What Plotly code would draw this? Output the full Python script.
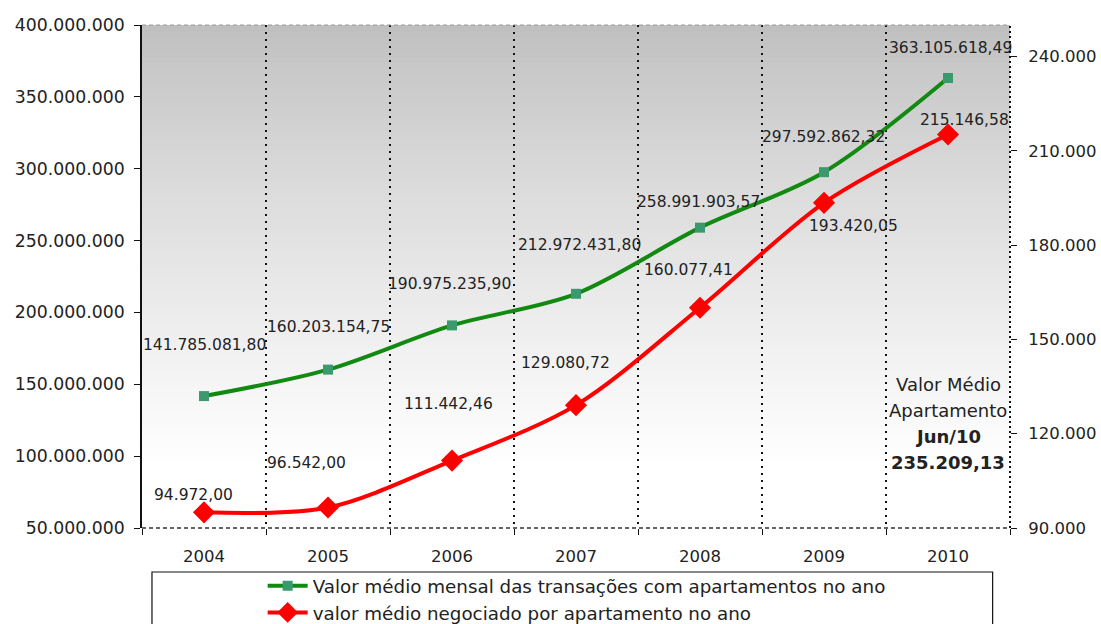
import plotly.graph_objects as go

# Years on the category axis
anos = ["2004", "2005", "2006", "2007", "2008", "2009", "2010"]

# Average monthly value of apartment transactions in the year (left axis)
valor_mensal = [141785081.80, 160203154.75, 190975235.90, 212972431.80,
                258991903.57, 297592862.32, 363105618.49]

# Average value traded per apartment in the year (right axis)
valor_apto = [94972.00, 96542.00, 111442.46, 129080.72,
              160077.41, 193420.05, 215146.58]

nome_mensal = "Valor médio mensal das transações com apartamentos no ano"
nome_apto = "valor médio negociado por apartamento no ano"

# Highlight box text: average apartment value in June 2010
destaque = ["Valor Médio", "Apartamento", "<b>Jun/10</b>", "<b>235.209,13</b>"]


def fmt_br(v):
    s = f"{v:,.2f}"
    return s.replace(",", "X").replace(".", ",").replace("X", ".")


# pixel offsets (dx, dy) of each value label from its point
desloc_mensal = [(0, 51), (0, 43), (-3, 41), (3, 49), (-2, 26), (-1, 35), (2, 30)]
desloc_apto = [(-11, 17), (-22, 44), (-4, 57), (-11, 42), (-12, 38), (29, -23), (16, 15)]

FONT = "DejaVu Sans"
TXT = "#222222"

fig = go.Figure()

fig.add_trace(go.Scatter(
    x=anos, y=valor_mensal, name=nome_mensal, mode="lines+markers",
    line=dict(color="#128a12", width=4, shape="spline", smoothing=0.9),
    marker=dict(symbol="square", size=10, color="#3a9a6e"),
    yaxis="y",
))
fig.add_trace(go.Scatter(
    x=anos, y=valor_apto, name=nome_apto, mode="lines+markers",
    line=dict(color="#ff0000", width=4, shape="spline", smoothing=0.9),
    marker=dict(symbol="diamond", size=17, color="#ff0000"),
    yaxis="y2",
))

annotations = []
for i, (v, (dx, dy)) in enumerate(zip(valor_mensal, desloc_mensal)):
    annotations.append(dict(x=i, y=v, xref="x", yref="y", text=fmt_br(v),
                            showarrow=False, xshift=dx, yshift=dy,
                            font=dict(family=FONT, size=15.5, color=TXT)))
for i, (v, (dx, dy)) in enumerate(zip(valor_apto, desloc_apto)):
    annotations.append(dict(x=i, y=v, xref="x", yref="y2", text=fmt_br(v),
                            showarrow=False, xshift=dx, yshift=dy,
                            font=dict(family=FONT, size=15.5, color=TXT)))

# four lines of the highlight text, 26 px apart, inside the last category
for k, linha in enumerate(destaque):
    annotations.append(dict(
        x=len(anos) - 1, y=0.2843, xref="x", yref="paper", yanchor="middle",
        yshift=-26 * k, showarrow=False, text=linha, align="center",
        font=dict(family=FONT, size=18, color=TXT),
    ))

# Background: vertical gray-to-white gradient built from overlapping bands
shapes = []
n = 70
y_top, y_white = 1.0, 0.12
step = (y_top - y_white) / n
for i in range(n):
    f0 = y_top - step * i
    f1 = max(f0 - step * 1.6, y_white)
    t = (i + 0.5) / n
    c = int(round(190 + (255 - 190) * (t ** 0.8)))
    shapes.append(dict(type="rect", xref="x domain", yref="y domain",
                       x0=0, x1=1, y0=f1, y1=f0, layer="below",
                       line=dict(width=0), fillcolor=f"rgb({c},{c},{c})"))

# Frame lines
shapes.append(dict(type="line", xref="x domain", yref="y domain", x0=0, x1=1, y0=1, y1=1,
                   line=dict(color="#9a9a9a", width=1, dash="4px,3px")))
shapes.append(dict(type="line", xref="x domain", yref="y domain", x0=0, x1=1, y0=0, y1=0,
                   line=dict(color="#333333", width=1.5, dash="4px,3px")))
shapes.append(dict(type="line", xref="x domain", yref="y domain", x0=1, x1=1, y0=0, y1=1,
                   line=dict(color="#111111", width=2, dash="2px,3px")))
# Legend box
shapes.append(dict(type="rect", xref="paper", yref="paper",
                   x0=0.0115, x1=0.980, y0=-0.0875, y1=-0.30,
                   line=dict(color="#111111", width=1.2), fillcolor="white", layer="below"))

fig.update_layout(
    width=1101, height=624,
    margin=dict(l=142, r=91, t=25, b=96, autoexpand=False),
    paper_bgcolor="white", plot_bgcolor="white",
    separators=",.",
    font=dict(family=FONT, size=16, color=TXT),
    showlegend=True,
    legend=dict(x=0.139, y=-0.078, xanchor="left", yanchor="top",
                bgcolor="rgba(0,0,0,0)", borderwidth=0,
                font=dict(family=FONT, size=18.3, color=TXT),
                tracegroupgap=0, itemwidth=40),
    annotations=annotations,
    shapes=shapes,
    xaxis=dict(type="category", tickson="boundaries", showgrid=True,
               gridcolor="#111111", griddash="2px,5px", gridwidth=2,
               ticks="outside", ticklen=6, tickcolor="#111111",
               ticklabelstandoff=16, showline=False, zeroline=False,
               tickfont=dict(family=FONT, size=16.5, color=TXT),
               range=[-0.5, 6.5]),
    yaxis=dict(range=[50000000, 400000000], dtick=50000000, tickformat=",.0f",
               showgrid=False, zeroline=False, showline=True, linecolor="#111111",
               linewidth=1.5, ticks="outside", ticklen=6, tickcolor="#111111",
               ticklabelstandoff=6, tickfont=dict(family=FONT, size=17.3, color=TXT)),
    yaxis2=dict(range=[90000, 250000], tickvals=[90000, 120000, 150000, 180000, 210000, 240000],
                tickformat=",.0f", overlaying="y", side="right",
                showgrid=False, zeroline=False, showline=False,
                ticks="outside", ticklen=6, tickcolor="#111111",
                ticklabelstandoff=8, tickfont=dict(family=FONT, size=16.5, color=TXT)),
)

fig.write_html("out.html")
